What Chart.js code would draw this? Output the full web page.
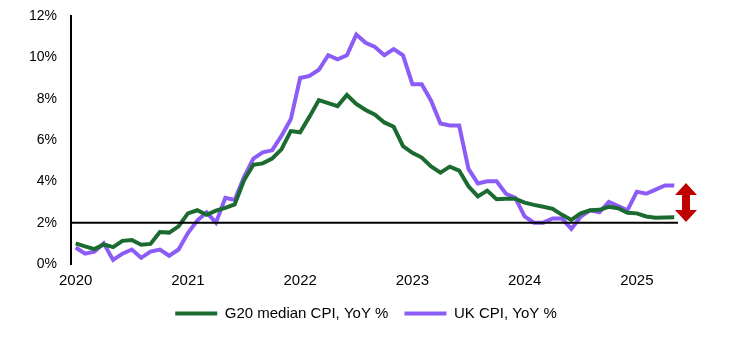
<!DOCTYPE html>
<html>
<head>
<meta charset="utf-8">
<script src="https://cdn.jsdelivr.net/npm/chart.js@4.4.1/dist/chart.umd.min.js"></script>
<style>
  html, body { margin: 0; padding: 0; background: #fff; }
  #wrap { width: 729px; height: 343px; position: relative; }
</style>
</head>
<body>
<div id="wrap"><canvas id="cpiChart"></canvas></div>
<script>
// x ticks: one label per year, a point per month
const yearLabels = ['2020', '2021', '2022', '2023', '2024', '2025'];

const g20Median = [
  1.00, 0.85, 0.72, 0.95, 0.82, 1.12, 1.16, 0.93, 0.97, 1.55, 1.52, 1.82,
  2.45, 2.60, 2.38, 2.58, 2.72, 2.88, 4.05, 4.80, 4.87, 5.10, 5.55, 6.43,
  6.37, 7.13, 7.93, 7.78, 7.64, 8.18, 7.75, 7.45, 7.22, 6.85, 6.64, 5.70,
  5.38, 5.15, 4.72, 4.42, 4.71, 4.52, 3.76, 3.27, 3.55, 3.13, 3.16, 3.16,
  2.97, 2.86, 2.77, 2.67, 2.38, 2.13, 2.45, 2.60, 2.62, 2.77, 2.70, 2.48,
  2.45, 2.30, 2.24, 2.25, 2.26
];

const ukCpi = [
  0.8, 0.5, 0.6, 1.0, 0.2, 0.5, 0.7, 0.3, 0.6, 0.7, 0.4, 0.7,
  1.5, 2.1, 2.5, 2.0, 3.2, 3.1, 4.2, 5.1, 5.4, 5.5, 6.2, 7.0,
  9.0, 9.1, 9.4, 10.1, 9.9, 10.1, 11.1, 10.7, 10.5, 10.1, 10.4, 10.1,
  8.7, 8.7, 7.9, 6.8, 6.7, 6.7, 4.6, 3.9, 4.0, 4.0, 3.4, 3.2,
  2.3, 2.0, 2.0, 2.2, 2.2, 1.7, 2.3, 2.6, 2.5, 3.0, 2.8, 2.6,
  3.5, 3.4, 3.6, 3.8, 3.8
];

const targetRate = 2;
const gapArrow = [2.03, 3.92]; // bottom / top of the red arrow, in %

const toPoints = arr => arr.map((v, i) => ({ x: i, y: v }));

const gapArrowPlugin = {
  id: 'gapArrow',
  afterDatasetsDraw(chart) {
    const { ctx, chartArea, scales: { y } } = chart;
    const top = y.getPixelForValue(gapArrow[1]);
    const bottom = y.getPixelForValue(gapArrow[0]);
    const cx = chartArea.right + 8;
    const headW = 11, headH = 12, shaftW = 4;
    ctx.save();
    ctx.fillStyle = '#C00000';
    ctx.beginPath();
    ctx.moveTo(cx, top);
    ctx.lineTo(cx + headW, top + headH);
    ctx.lineTo(cx + shaftW, top + headH);
    ctx.lineTo(cx + shaftW, bottom - headH);
    ctx.lineTo(cx + headW, bottom - headH);
    ctx.lineTo(cx, bottom);
    ctx.lineTo(cx - headW, bottom - headH);
    ctx.lineTo(cx - shaftW, bottom - headH);
    ctx.lineTo(cx - shaftW, top + headH);
    ctx.lineTo(cx - headW, top + headH);
    ctx.closePath();
    ctx.fill();
    ctx.restore();
  }
};

Chart.defaults.font.family = '"Liberation Sans", Arial, sans-serif';
Chart.defaults.color = '#000';

const ctx = document.getElementById('cpiChart').getContext('2d');
new Chart(ctx, {
  type: 'line',
  data: {
    datasets: [
      {
        label: '',
        data: [{ x: -0.5, y: targetRate }, { x: 64.4, y: targetRate }],
        borderColor: '#000',
        borderWidth: 2,
        pointRadius: 0
      },
      {
        label: 'G20 median CPI, YoY %',
        data: toPoints(g20Median),
        borderColor: '#1B6B30',
        backgroundColor: '#1B6B30',
        borderWidth: 4,
        pointRadius: 0,
        tension: 0
      },
      {
        label: 'UK CPI, YoY %',
        data: toPoints(ukCpi),
        borderColor: '#8B5CF6',
        backgroundColor: '#8B5CF6',
        borderWidth: 4,
        pointRadius: 0,
        tension: 0
      }
    ]
  },
  options: {
    responsive: true,
    maintainAspectRatio: false,
    animation: false,
    layout: { padding: { left: 3, right: 0, top: 16, bottom: 12 } },
    plugins: {
      tooltip: { enabled: false },
      legend: {
        position: 'bottom',
        labels: {
          filter: item => item.text !== '',
          usePointStyle: true,
          pointStyle: 'line',
          pointStyleWidth: 42,
          font: { size: 15 },
          padding: 16
        }
      }
    },
    scales: {
      x: {
        type: 'linear',
        min: -0.5,
        max: 64.4,
        grid: { display: false, drawTicks: true, tickLength: 8 },
        border: { display: false },
        afterBuildTicks: axis => {
          axis.ticks = yearLabels.map((_, i) => ({ value: i * 12 }));
        },
        ticks: {
          autoSkip: false,
          maxRotation: 0,
          padding: 0,
          font: { size: 15 },
          callback: (value) => yearLabels[value / 12]
        }
      },
      y: {
        min: 0,
        max: 12,
        grid: { display: false, drawTicks: true, tickLength: 11 },
        border: { display: true, color: '#000', width: 2 },
        afterFit: axis => { axis.width = 68; },
        ticks: {
          stepSize: 2,
          padding: 3,
          font: { size: 14 },
          callback: value => value + '%'
        }
      },
      // empty right-hand axis that leaves room for the arrow
      yRight: {
        position: 'right',
        min: 0,
        max: 12,
        grid: { display: false, drawTicks: false },
        border: { display: false },
        ticks: { display: false },
        afterFit: axis => { axis.width = 51; }
      }
    }
  },
  plugins: [gapArrowPlugin]
});
</script>
</body>
</html>
